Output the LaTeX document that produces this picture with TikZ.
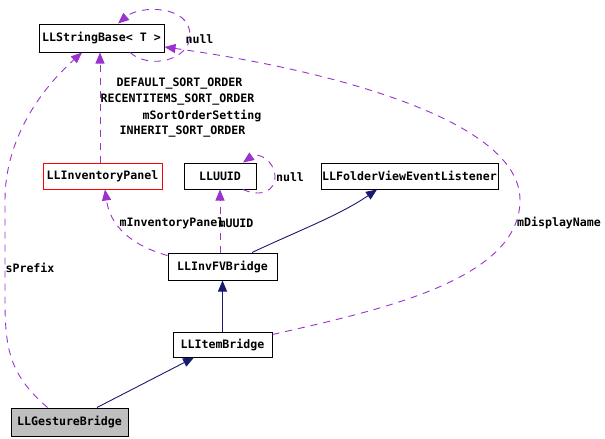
\documentclass[tikz,border=0pt]{standalone}
\usepackage{fontspec}
\setmonofont{DejaVu Sans Mono}
\usepackage{tikz}
\usetikzlibrary{arrows.meta}
\definecolor{orchid3}{RGB}{154,50,205}
\definecolor{midnight}{RGB}{25,25,112}
\definecolor{grey75}{RGB}{191,191,191}

\begin{document}
\begin{tikzpicture}[
  x=1pt, y=-1pt,
  cls/.style={rectangle, draw, line width=1pt, inner sep=0pt,
              font=\fontsize{11.6}{12}\selectfont\ttfamily\bfseries},
  lbl/.style={inner sep=0pt, font=\fontsize{11.6}{12}\selectfont\ttfamily\bfseries},
  usage/.style={-{Triangle[length=11pt,width=9pt,fill=orchid3]}, draw=orchid3,
                line width=0.9pt, dash pattern=on 7pt off 6pt},
  inh/.style={-{Triangle[length=11pt,width=9pt,fill=midnight]}, draw=midnight,
              line width=0.9pt},
]
\useasboundingbox (0,0) rectangle (605,439);

\node[cls, minimum width=125pt, minimum height=28pt] (sbase) at (101.5,38) {LLStringBase< T >};
\node[cls, draw=red, minimum width=119pt, minimum height=26pt] (panel) at (102.5,176) {LLInventoryPanel};
\node[cls, minimum width=72pt, minimum height=26pt] (uuid) at (220,176) {LLUUID};
\node[cls, minimum width=177pt, minimum height=26pt] (listener) at (409.5,176) {LLFolderViewEventListener};
\node[cls, minimum width=109pt, minimum height=27pt] (fvbridge) at (222.5,266.5) {LLInvFVBridge};
\node[cls, minimum width=99pt, minimum height=25pt] (item) at (222.5,344.5) {LLItemBridge};
\node[cls, fill=grey75, minimum width=117pt, minimum height=28pt] (gesture) at (69.5,422) {LLGestureBridge};

% collaboration edges
\draw[usage] ([xshift=-22pt]gesture.north) .. controls (10,375) and (5,350) .. (5,300)
  -- (5,200) .. controls (5,140) and (40,90) .. ([xshift=-19.5pt]sbase.south);
\draw[usage] ([yshift=-3pt]item.north east) .. controls (380,310) and (520,280) .. (520,200)
  .. controls (520,120) and (330,70) .. ([yshift=-9pt]sbase.east);
\draw[usage] ([xshift=28.5pt]sbase.south) .. controls (150,70) and (190,60) .. (190,35)
  .. controls (190,5) and (140,5) .. ([xshift=16.5pt]sbase.north);
\draw[usage] ([xshift=-2.5pt]panel.north) -- ([xshift=-1.5pt]sbase.south);
\draw[usage] ([xshift=23pt]uuid.south) .. controls (262,198) and (276,190) .. (275,176)
  .. controls (274,160) and (258,152) .. ([xshift=23pt]uuid.north);
\draw[usage] ([xshift=-2.5pt]fvbridge.north) -- (uuid.south);
\draw[usage] ([yshift=-3pt]fvbridge.north west) .. controls (130,245) and (110,225) .. ([xshift=2.5pt]panel.south);

% inheritance edges
\draw[inh] ([xshift=29.5pt]fvbridge.north) .. controls (300,230) and (340,215) .. ([xshift=-32.5pt]listener.south);
\draw[inh] (item.north) -- (fvbridge.south);
\draw[inh] ([xshift=27.5pt]gesture.north) -- ([xshift=-28.5pt]item.south);

\node[lbl] (nullsb) at (199.5,39) {null};
\node[lbl] (dso) at (179.5,84) {DEFAULT\_SORT\_ORDER};
\node[lbl] (rso) at (177.5,100) {RECENTITEMS\_SORT\_ORDER};
\node[lbl] (mso) at (202,116) {mSortOrderSetting};
\node[lbl] (iso) at (182.5,132) {INHERIT\_SORT\_ORDER};
\node[lbl] (nulluu) at (290,177) {null};
\node[lbl] (minv) at (172,223) {mInventoryPanel};
\node[lbl] (muuid) at (236,223) {mUUID};
\node[lbl] (mdisp) at (559,223) {mDisplayName};
\node[lbl] (spre) at (30,268) {sPrefix};

\end{tikzpicture}
\end{document}
